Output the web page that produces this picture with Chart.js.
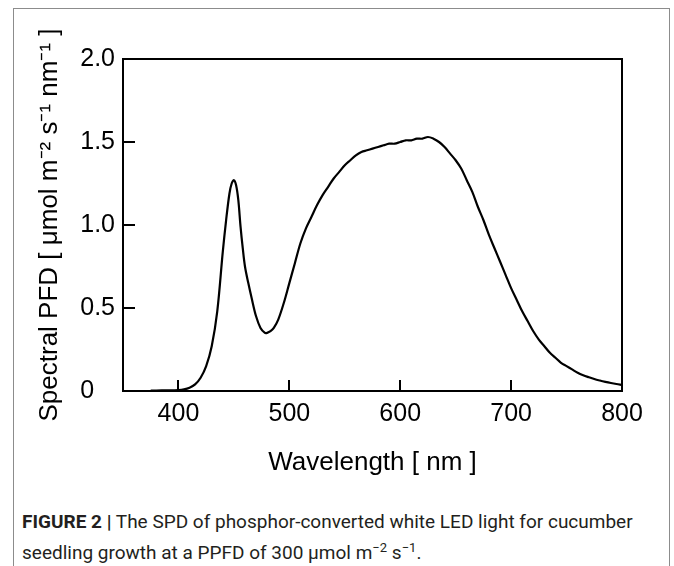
<!DOCTYPE html>
<html>
<head>
<meta charset="utf-8">
<script src="https://cdn.jsdelivr.net/npm/chart.js@4.4.0/dist/chart.umd.min.js"></script>
<style>
  html, body { margin: 0; padding: 0; background: #fff; width: 674px; height: 566px; overflow: hidden; }
  #frame { position: absolute; left: 13px; top: 8px; width: 657px; height: 620px; border: 1.5px solid #8c8c8c; box-sizing: border-box; }
  #chart { position: absolute; left: 0; top: 0; }
  #caption { position: absolute; left: 22px; top: 509px; width: 636px; font-family: Roboto, "Liberation Sans", sans-serif; font-size: 19px; line-height: 26px; color: #231f20; }
  #caption b { font-weight: 700; }
</style>
</head>
<body>
<div id="frame"></div>
<canvas id="chart" width="674" height="490"></canvas>
<div id="caption"><b>FIGURE 2 |</b> The SPD of phosphor-converted white LED light for cucumber seedling growth at a PPFD of 300 &mu;mol m<sup style="font-size:13px">&minus;2</sup> s<sup style="font-size:13px">&minus;1</sup>.</div>
<script>
// Wavelength (nm) and spectral photon flux density
const wavelengths = [375, 380, 390, 400, 405, 410, 415, 420, 425, 430, 435, 440, 443, 446, 448, 450, 452, 454, 456, 458, 460, 463, 466, 470, 474, 478, 480, 483, 486, 490, 495, 500, 505, 510, 515, 520, 525, 530, 535, 540, 545, 550, 555, 560, 565, 570, 575, 580, 585, 590, 595, 600, 605, 610, 615, 620, 625, 630, 635, 640, 645, 650, 655, 660, 665, 670, 675, 680, 685, 690, 695, 700, 705, 710, 715, 720, 725, 730, 735, 740, 745, 750, 755, 760, 765, 770, 775, 780, 785, 790, 795, 800];
const pfd = [0.002, 0.003, 0.004, 0.006, 0.01, 0.02, 0.04, 0.08, 0.15, 0.27, 0.48, 0.84, 1.03, 1.19, 1.25, 1.27, 1.24, 1.15, 0.99, 0.86, 0.75, 0.65, 0.56, 0.45, 0.38, 0.35, 0.35, 0.36, 0.38, 0.43, 0.53, 0.65, 0.77, 0.89, 0.98, 1.05, 1.12, 1.18, 1.23, 1.28, 1.32, 1.36, 1.39, 1.42, 1.44, 1.45, 1.46, 1.47, 1.48, 1.49, 1.49, 1.50, 1.51, 1.51, 1.52, 1.52, 1.53, 1.52, 1.50, 1.47, 1.43, 1.39, 1.34, 1.27, 1.20, 1.11, 1.03, 0.94, 0.86, 0.78, 0.70, 0.62, 0.55, 0.48, 0.42, 0.36, 0.31, 0.27, 0.23, 0.20, 0.17, 0.15, 0.13, 0.11, 0.095, 0.083, 0.072, 0.063, 0.055, 0.048, 0.042, 0.037];

// Axis ticks
const xTicks = [400, 500, 600, 700, 800];
const yTicks = [0, 0.5, 1.0, 1.5, 2.0];
const yTickLabels = ['0   ', '0.5', '1.0', '1.5', '2.0'];

const X_MIN = 350, X_MAX = 800, Y_MIN = 0, Y_MAX = 2;

// Plot box and inward tick marks
const boxAndTicks = {
  id: 'boxAndTicks',
  afterDatasetsDraw(chart) {
    const { ctx, chartArea: a, scales: { x, y } } = chart;
    ctx.save();
    ctx.strokeStyle = '#000';
    ctx.lineWidth = 2;
    ctx.strokeRect(a.left, a.top, a.right - a.left, a.bottom - a.top);
    ctx.beginPath();
    y.ticks.forEach(t => {
      if (t.value > Y_MIN && t.value < Y_MAX) {
        const py = Math.round(y.getPixelForValue(t.value));
        ctx.moveTo(a.left, py);
        ctx.lineTo(a.left + 12, py);
      }
    });
    x.ticks.forEach(t => {
      if (t.value > X_MIN && t.value < X_MAX) {
        const px = Math.round(x.getPixelForValue(t.value));
        ctx.moveTo(px, a.bottom);
        ctx.lineTo(px, a.bottom - 11);
      }
    });
    ctx.stroke();
    ctx.restore();
  }
};

const tickFont = { family: '"Liberation Sans", Arial, sans-serif', size: 25 };
const titleFont = { family: '"Liberation Sans", Arial, sans-serif', size: 26 };

new Chart(document.getElementById('chart'), {
  type: 'line',
  data: {
    datasets: [{
      data: wavelengths.map((w, i) => ({ x: w, y: pfd[i] })),
      borderColor: '#000',
      borderWidth: 2.2,
      pointRadius: 0,
      tension: 0.35,
      fill: false
    }]
  },
  options: {
    responsive: false,
    animation: false,
    layout: { padding: { left: 0, top: 59, right: 52, bottom: 0 } },
    plugins: { legend: { display: false }, tooltip: { enabled: false } },
    scales: {
      x: {
        type: 'linear',
        min: X_MIN,
        max: X_MAX,
        afterBuildTicks: scale => { scale.ticks = xTicks.map(v => ({ value: v })); },
        afterFit: scale => { scale.height = 99; },
        grid: { display: false, drawTicks: false },
        border: { display: false },
        ticks: { color: '#000', font: tickFont, padding: 8, maxRotation: 0 },
        title: { display: true, text: 'Wavelength [ nm ]', color: '#000', font: titleFont, padding: { top: 0, bottom: 12 } }
      },
      y: {
        min: Y_MIN,
        max: Y_MAX,
        afterBuildTicks: scale => { scale.ticks = yTicks.map(v => ({ value: v })); },
        afterFit: scale => { scale.width = 123; },
        grid: { display: false, drawTicks: false },
        border: { display: false },
        ticks: {
          color: '#000',
          font: tickFont,
          padding: 8,
          callback: v => yTickLabels[yTicks.indexOf(v)]
        },
        title: { display: true, text: 'Spectral PFD [ μmol m⁻² s⁻¹ nm⁻¹ ]', color: '#000', font: titleFont, padding: { top: 34, bottom: 0 } }
      }
    }
  },
  plugins: [boxAndTicks]
});
</script>
</body>
</html>
